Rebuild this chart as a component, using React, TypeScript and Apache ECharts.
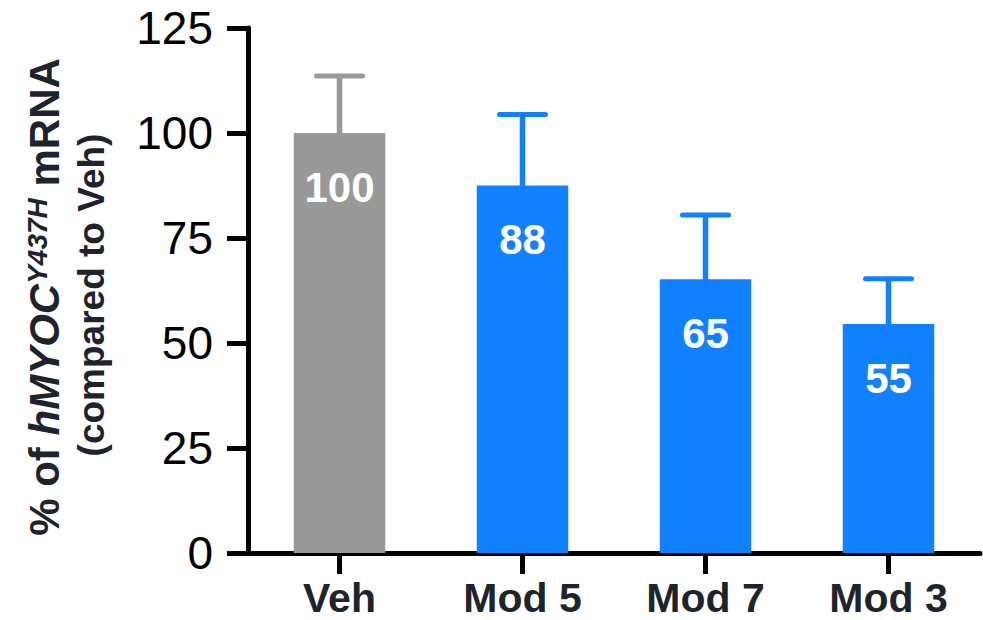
import React, { useEffect, useRef } from "react";
import * as echarts from "echarts";

const categories = ["Veh", "Mod 5", "Mod 7", "Mod 3"];
const means = [100, 87.5, 65.2, 54.5];
const upperErrors = [113.6, 104.4, 80.5, 65.3];
const barColors = ["#999999", "#1281ff", "#1281ff", "#1281ff"];
const yMin = 0;
const yMax = 125;
const yInterval = 25;

const FONT = "'Liberation Sans', Arial, Helvetica, sans-serif";
const TEXT_DARK = "#1f232b";

export default function App() {
  const ref = useRef<HTMLDivElement>(null);

  useEffect(() => {
    if (!ref.current) return;
    document.body.style.margin = "0";
    const chart = echarts.init(ref.current, undefined, { renderer: "svg" });

    const option: any = {
      animation: false,
      backgroundColor: "#ffffff",
      grid: { left: 248, right: 3, top: 28, bottom: 67, containLabel: false },
      xAxis: {
        type: "category",
        data: categories,
        axisLine: { show: true, lineStyle: { color: "#000", width: 5 } },
        axisTick: {
          show: true,
          alignWithLabel: true,
          length: 21,
          lineStyle: { color: "#000", width: 5 },
        },
        axisLabel: {
          color: TEXT_DARK,
          fontSize: 41,
          fontWeight: "bold",
          fontFamily: FONT,
          margin: 24,
        },
        splitLine: { show: false },
      },
      yAxis: {
        type: "value",
        min: yMin,
        max: yMax,
        interval: yInterval,
        axisLine: { show: true, lineStyle: { color: "#000", width: 5 } },
        axisTick: {
          show: true,
          inside: false,
          length: 21,
          lineStyle: { color: "#000", width: 5 },
        },
        axisLabel: {
          color: "#000",
          fontSize: 46,
          fontFamily: FONT,
          margin: 35,
        },
        splitLine: { show: false },
      },
      series: [
        {
          type: "bar",
          barWidth: "50%",
          data: means.map((v, i) => ({
            value: v,
            itemStyle: { color: barColors[i] },
          })),
          label: {
            show: true,
            position: "insideTop",
            distance: 33,
            color: "#ffffff",
            fontSize: 42,
            fontWeight: "bold",
            fontFamily: FONT,
            formatter: (p: any) => String(Math.round(p.value)),
          },
          z: 2,
        },
        {
          type: "custom",
          z: 3,
          encode: { x: 0, y: [1, 2] },
          data: categories.map((_, i) => [i, means[i], upperErrors[i]]),
          renderItem: (params: any, api: any) => {
            const idx = api.value(0);
            const mean = api.value(1);
            const up = api.value(2);
            const base = api.coord([idx, mean]);
            const top = api.coord([idx, up]);
            const color = barColors[idx];
            return {
              type: "group",
              children: [
                {
                  type: "line",
                  shape: { x1: base[0], y1: base[1] + 1, x2: top[0], y2: top[1] },
                  style: { stroke: color, lineWidth: 5.5 },
                },
                {
                  type: "line",
                  shape: { x1: top[0] - 23, y1: top[1], x2: top[0] + 23, y2: top[1] },
                  style: { stroke: color, lineWidth: 5, lineCap: "round" },
                },
              ],
            };
          },
        },
      ],
      graphic: [
        {
          type: "text",
          x: 44,
          y: 297,
          rotation: Math.PI / 2,
          style: {
            text: "{b|% of }{bi|hMYOC}{sup|Y437H}{b| mRNA}",
            align: "center",
            verticalAlign: "middle",
            fill: TEXT_DARK,
            rich: {
              b: {
                fontSize: 42,
                fontWeight: "bold",
                fontFamily: FONT,
                fill: TEXT_DARK,
                lineHeight: 42,
              },
              bi: {
                fontSize: 42,
                fontWeight: "bold",
                fontStyle: "italic",
                fontFamily: FONT,
                fill: TEXT_DARK,
                lineHeight: 42,
              },
              sup: {
                fontSize: 28,
                fontWeight: "bold",
                fontStyle: "italic",
                fontFamily: FONT,
                fill: TEXT_DARK,
                verticalAlign: "top",
                lineHeight: 28,
              },
            },
          },
        },
        {
          type: "text",
          x: 91.5,
          y: 295,
          rotation: Math.PI / 2,
          style: {
            text: "(compared to Veh)",
            align: "center",
            verticalAlign: "middle",
            fill: TEXT_DARK,
            fontSize: 37,
            fontWeight: "bold",
            fontFamily: FONT,
          },
        },
      ],
    };

    chart.setOption(option);
    return () => {
      chart.dispose();
    };
  }, []);

  return (
    <div
      ref={ref}
      style={{ width: 983, height: 620, position: "fixed", left: 0, top: 0 }}
    />
  );
}
